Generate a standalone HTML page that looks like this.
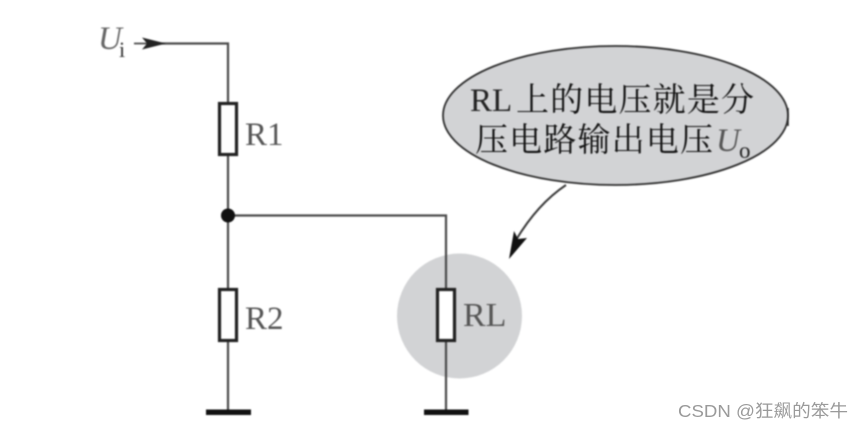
<!DOCTYPE html>
<html>
<head>
<meta charset="utf-8">
<style>
html,body{margin:0;padding:0;background:#fff;width:865px;height:429px;overflow:hidden}
svg{display:block;position:absolute;left:0;top:0}
.b{filter:blur(0.8px)}
.t{font-family:"Liberation Serif","Noto Serif CJK SC",serif;fill:#4a4a4a}
</style>
</head>
<body>
<svg width="865" height="429" viewBox="0 0 865 429" xmlns="http://www.w3.org/2000/svg">
<g class="b">
  <ellipse cx="459.500" cy="316" rx="62.500" ry="62.500" fill="#d2d3d5"/>
  <ellipse cx="615.500" cy="115.500" rx="172.500" ry="69.500" fill="#d2d3d5" stroke="#2e2e2e" stroke-width="1.800"/>
  <path d="M788 108V126" stroke="#222" stroke-width="1.500" fill="none"/>

  <g fill="none" stroke="#4a4a4a" stroke-width="2.200">
    <path d="M160 43.500H228V102"/>
    <path d="M228 155V288"/>
    <path d="M228 215.500H446V288"/>
    <path d="M228 341V410"/>
    <path d="M446 341V410"/>
    <path d="M134 43.500H160" stroke-width="1.800"/>
    <path d="M566 185C545 199 528 220 516 240" stroke="#3a3a3a" stroke-width="2"/>
  </g>

  <path d="M142 37.500L166 43.500L142 49.500L147 43.500Z" fill="#222"/>
  <path d="M509 259L514 231L518 239L527 238Z" fill="#111"/>

  <g fill="#fff" stroke="#222" stroke-width="3.200">
    <rect x="219.500" y="103.500" width="17" height="51"/>
    <rect x="219.500" y="289.500" width="17" height="51"/>
    <rect x="437.500" y="289.500" width="17" height="51"/>
  </g>

  <circle cx="228" cy="215.500" r="7" fill="#111"/>
  <rect x="206" y="409.500" width="45" height="5.500" fill="#111"/>
  <rect x="424" y="409.500" width="44.500" height="5.500" fill="#111"/>

  <text class="t" x="98" y="49" font-size="33" font-style="italic" style="fill:#666">U</text>
  <text class="t" x="119" y="57" font-size="22" style="fill:#333">i</text>
  <text class="t" x="245" y="145" font-size="33" style="fill:#555">R1</text>
  <text class="t" x="245" y="329" font-size="33" style="fill:#555">R2</text>
  <text class="t" x="463" y="326" font-size="34" style="fill:#555">RL</text>

  <text class="t" x="470" y="111" font-size="33" style="fill:#222">RL</text>
  <text class="t" x="516" y="111" font-size="33" textLength="238" lengthAdjust="spacing" style="fill:#111">上的电压就是分</text>
  <text class="t" x="475" y="151" font-size="33" textLength="238" lengthAdjust="spacing" style="fill:#111">压电路输出电压</text>
  <text class="t" x="716" y="151" font-size="33" font-style="italic" style="fill:#555">U</text>
  <text class="t" x="739" y="158" font-size="23" style="fill:#222">o</text>
</g>
<text x="678" y="417" font-size="17.500" fill="#9a9a9a" font-family="'Liberation Sans','Noto Sans CJK SC',sans-serif" textLength="170" lengthAdjust="spacingAndGlyphs">CSDN @狂飙的笨牛</text>
</svg>
</body>
</html>
